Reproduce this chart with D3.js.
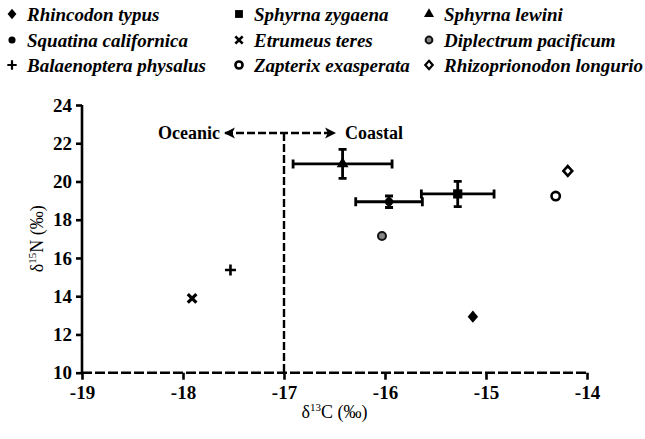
<!DOCTYPE html>
<html>
<head>
<meta charset="utf-8">
<script src="https://cdn.jsdelivr.net/npm/d3@7"></script>
<style>
  body { margin: 0; background: #fff; }
  svg { display: block; }
</style>
</head>
<body>
<svg id="chart" width="645" height="439" font-family="Liberation Serif" style="font-family: Liberation Serif"></svg>
<script>
// Species and their mean isotope values
const species = [
  "Rhincodon typus", "Sphyrna zygaena", "Sphyrna lewini",
  "Squatina californica", "Etrumeus teres", "Diplectrum pacificum",
  "Balaenoptera physalus", "Zapterix exasperata", "Rhizoprionodon longurio"
];
const d13C = [-15.13, -15.28, -16.42, -15.96, -17.91, -16.03, -17.53, -14.31, -14.19];
const d15N = [12.93, 19.35, 20.92, 18.94, 13.89, 17.15, 15.37, 19.24, 20.55];
const sdC  = [0, 0.36, 0.49, 0.33, 0, 0, 0, 0, 0];
const sdN  = [0, 0.66, 0.76, 0.30, 0, 0, 0, 0, 0];

const xTicks = [-19, -18, -17, -16, -15, -14];
const yTicks = [10, 12, 14, 16, 18, 20, 22, 24];
const boundaryC = -17;

const SERIF = "Liberation Serif";
function font(sel, size, weight = "normal", style = "normal") {
  return sel.attr("font-family", SERIF)
    .style("font-family", SERIF).style("font-size", size + "px")
    .style("font-weight", weight).style("font-style", style).style("fill", "#000");
}

// Custom symbol shapes
const diamond = (w, h) => ({ draw(ctx) {
  ctx.moveTo(0, -h); ctx.lineTo(w, 0); ctx.lineTo(0, h); ctx.lineTo(-w, 0); ctx.closePath();
}});
const cross = (r) => ({ draw(ctx) {
  ctx.moveTo(-r, 0); ctx.lineTo(r, 0); ctx.moveTo(0, -r); ctx.lineTo(0, r);
}});
const xMark = (r) => ({ draw(ctx) {
  ctx.moveTo(-r, -r); ctx.lineTo(r, r); ctx.moveTo(r, -r); ctx.lineTo(-r, r);
}});

// Marker style per species
const markers = [
  { type: diamond(5.2, 6.2), fill: "#000", stroke: "none" },
  { type: d3.symbolSquare, size: 85, fill: "#000", stroke: "none" },
  { type: d3.symbolTriangle, size: 60, fill: "#000", stroke: "none" },
  { type: d3.symbolCircle, size: 55, fill: "#000", stroke: "none" },
  { type: xMark(4.3), fill: "none", stroke: "#000", sw: 3.2 },
  { type: d3.symbolCircle, size: 50, fill: "#858585", stroke: "#111", sw: 2 },
  { type: cross(5.5), fill: "none", stroke: "#000", sw: 2.6 },
  { type: d3.symbolCircle, size: 55, fill: "#fff", stroke: "#000", sw: 2.6 },
  { type: diamond(4.4, 4.9), fill: "#fff", stroke: "#000", sw: 2.6 }
];

const svg = d3.select("#chart");
const x = d3.scaleLinear().domain([-19, -14]).range([82, 587]);
const y = d3.scaleLinear().domain([10, 24]).range([372.7, 105]);

function drawMarker(g, m, cx, cy, scale = 1) {
  g.append("path")
    .attr("d", d3.symbol().type(m.type).size((m.size || 64) * scale * scale)())
    .attr("transform", `translate(${cx},${cy}) scale(${m.size ? 1 : scale})`)
    .attr("fill", m.fill)
    .attr("stroke", m.stroke)
    .attr("stroke-width", m.sw || 0);
}

// Axes
const xAxis = svg.append("g").attr("transform", `translate(0,${y(10)})`)
  .call(d3.axisBottom(x).tickValues(xTicks).tickSize(7).tickPadding(6).tickFormat(d => "-" + Math.abs(d)))
  .attr("font-family", SERIF);
xAxis.select(".domain").attr("stroke-width", 2.6).attr("stroke-dasharray", "10,3")
  .attr("d", `M${x(-19)},0H${x(-14)}`);
xAxis.selectAll(".tick line").attr("stroke-width", 2.6);
font(xAxis.selectAll(".tick text"), 19, "bold");

const yAxis = svg.append("g").attr("transform", `translate(${x(-19)},0)`)
  .call(d3.axisLeft(y).tickValues(yTicks).tickSize(6).tickPadding(4).tickFormat(d3.format("d")))
  .attr("font-family", SERIF);
yAxis.select(".domain").attr("stroke-width", 2.6).attr("d", `M0,${y(24)}V${y(10)}`);
yAxis.selectAll(".tick line").attr("stroke-width", 2.6);
font(yAxis.selectAll(".tick text"), 19, "bold");

// Axis titles
const xt = font(svg.append("text"), 18).attr("x", (x(-19) + x(-14)) / 2).attr("y", 418)
  .attr("text-anchor", "middle");
xt.append("tspan").text("δ");
xt.append("tspan").style("font-size", "11px").attr("dy", -7).text("13");
xt.append("tspan").attr("dy", 7).text("C (‰)");

const yt = font(svg.append("text"), 18)
  .attr("transform", `translate(43,${(y(10) + y(24)) / 2}) rotate(-90)`)
  .attr("text-anchor", "middle");
yt.append("tspan").text("δ");
yt.append("tspan").style("font-size", "11px").attr("dy", -7).text("15");
yt.append("tspan").attr("dy", 7).text("N (‰)");

// Oceanic / coastal boundary
const arrowY = 133;
svg.append("defs").append("marker")
  .attr("id", "head").attr("viewBox", "0 0 10 10").attr("refX", 9).attr("refY", 5)
  .attr("markerWidth", 4.6).attr("markerHeight", 4.6).attr("orient", "auto-start-reverse")
  .attr("markerUnits", "strokeWidth")
  .append("path").attr("d", "M0,0L10,5L0,10L2.5,5Z").attr("fill", "#000");
svg.append("line")
  .attr("x1", x(boundaryC) - 59).attr("x2", x(boundaryC) + 51)
  .attr("y1", arrowY).attr("y2", arrowY)
  .attr("stroke", "#000").attr("stroke-width", 2.4).attr("stroke-dasharray", "8,3")
  .attr("marker-start", "url(#head)").attr("marker-end", "url(#head)");
svg.append("line")
  .attr("x1", x(boundaryC)).attr("x2", x(boundaryC))
  .attr("y1", arrowY).attr("y2", y(10))
  .attr("stroke", "#000").attr("stroke-width", 2.4).attr("stroke-dasharray", "8,3");
font(svg.append("text"), 18, "bold").attr("x", x(boundaryC) - 64).attr("y", arrowY + 6)
  .attr("text-anchor", "end").text("Oceanic");
font(svg.append("text"), 18, "bold").attr("x", x(boundaryC) + 61).attr("y", arrowY + 6)
  .attr("text-anchor", "start").text("Coastal");

// Legend: three columns by three rows
const colX = [12, 239, 429];
const rowY = [15, 41, 66];
species.forEach((name, i) => {
  const c = i % 3, r = Math.floor(i / 3);
  drawMarker(svg, markers[i], colX[c], rowY[r] - 1, 0.85);
  font(svg.append("text"), 19, "bold", "italic")
    .attr("x", colX[c] + 15).attr("y", rowY[r] + 6)
    .text(name);
});

// Error bars (mean ± SD)
const eb = svg.append("g").attr("stroke", "#000").attr("stroke-width", 2.8).attr("fill", "none");
species.forEach((_, i) => {
  const cx = x(d13C[i]), cy = y(d15N[i]);
  if (sdC[i] > 0) {
    const x0 = x(d13C[i] - sdC[i]), x1 = x(d13C[i] + sdC[i]);
    eb.append("path").attr("d", `M${x0},${cy}H${x1}M${x0},${cy - 4.5}V${cy + 4.5}M${x1},${cy - 4.5}V${cy + 4.5}`);
  }
  if (sdN[i] > 0) {
    const y0 = y(d15N[i] - sdN[i]), y1 = y(d15N[i] + sdN[i]);
    eb.append("path").attr("d", `M${cx},${y0}V${y1}M${cx - 4},${y0}H${cx + 4}M${cx - 4},${y1}H${cx + 4}`);
  }
});

// Points
const pts = svg.append("g");
species.forEach((_, i) => drawMarker(pts, markers[i], x(d13C[i]), y(d15N[i]), 1));
</script>
</body>
</html>
